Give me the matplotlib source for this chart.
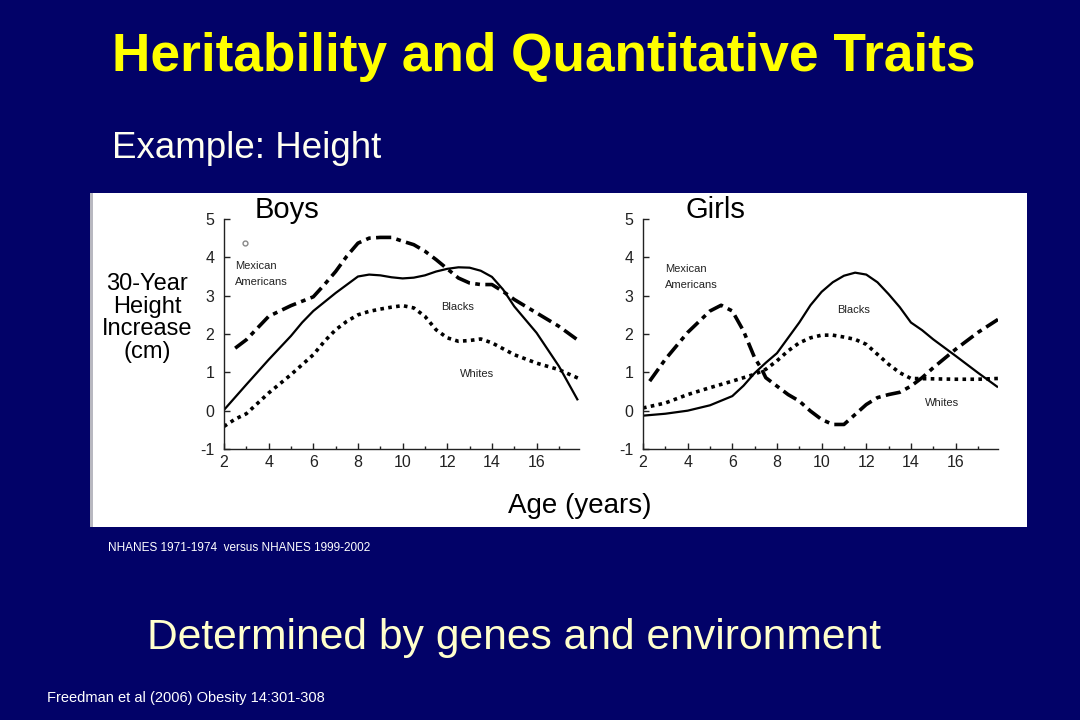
import matplotlib
matplotlib.use("Agg")
import matplotlib.pyplot as plt
from matplotlib.patches import Rectangle
from matplotlib.ticker import MultipleLocator

plt.rcParams['font.family'] = ['Liberation Sans', 'DejaVu Sans']
plt.rcParams['axes.unicode_minus'] = False

# ---------------- data ----------------
boys_black_x = [2, 3, 4, 5, 5.5, 6, 7, 8, 8.5, 9, 9.5, 10, 10.5, 11, 11.5, 12, 12.5, 13, 13.5, 14, 14.5, 15, 16, 17, 17.85]
boys_black_y = [0.02, 0.68, 1.33, 1.95, 2.3, 2.6, 3.07, 3.5, 3.55, 3.53, 3.48, 3.45, 3.47, 3.53, 3.63, 3.7, 3.74, 3.73, 3.65, 3.49, 3.16, 2.72, 2.03, 1.16, 0.27]

boys_mex_x = [2.5, 3, 4, 5, 6, 6.5, 7, 7.5, 8, 8.5, 9, 9.5, 10, 10.5, 11, 11.5, 12, 12.5, 13, 13.5, 14, 14.5, 15, 16, 17, 17.85]
boys_mex_y = [1.63, 1.85, 2.46, 2.74, 2.97, 3.29, 3.63, 4.03, 4.37, 4.5, 4.52, 4.52, 4.42, 4.33, 4.16, 3.94, 3.7, 3.46, 3.33, 3.29, 3.29, 3.11, 2.9, 2.55, 2.2, 1.84]

boys_white_x = [2, 2.5, 3, 4, 5, 6, 6.5, 7, 7.5, 8, 8.5, 9, 9.5, 10, 10.5, 11, 11.5, 12, 12.5, 13, 13.5, 14, 15, 16, 17, 17.85]
boys_white_y = [-0.41, -0.22, -0.08, 0.46, 0.94, 1.46, 1.81, 2.11, 2.33, 2.5, 2.59, 2.65, 2.7, 2.74, 2.68, 2.46, 2.11, 1.9, 1.81, 1.83, 1.87, 1.77, 1.46, 1.24, 1.07, 0.85]

girls_black_x = [2, 3, 4, 5, 6, 6.5, 7, 7.5, 8, 8.5, 9, 9.5, 10, 10.5, 11, 11.5, 12, 12.5, 13, 13.5, 14, 14.5, 15, 16, 17, 17.9]
girls_black_y = [-0.13, -0.08, 0.0, 0.14, 0.38, 0.65, 0.98, 1.25, 1.5, 1.9, 2.3, 2.75, 3.1, 3.35, 3.52, 3.6, 3.55, 3.35, 3.04, 2.7, 2.3, 2.1, 1.86, 1.43, 0.99, 0.61]

girls_mex_x = [2.3, 3, 4, 5, 5.5, 6, 6.5, 7, 7.3, 7.5, 8, 8.5, 9, 9.5, 10, 10.5, 11, 11.5, 12, 12.5, 13, 13.5, 14, 14.5, 15, 16, 17, 17.9]
girls_mex_y = [0.77, 1.34, 2.04, 2.6, 2.75, 2.6, 2.08, 1.38, 1.1, 0.86, 0.64, 0.42, 0.25, -0.01, -0.23, -0.36, -0.36, -0.1, 0.16, 0.34, 0.42, 0.48, 0.64, 0.86, 1.12, 1.6, 2.04, 2.38]

girls_white_x = [2, 3, 4, 5, 6, 7, 7.5, 8, 8.5, 9, 9.5, 10, 10.5, 11, 11.5, 12, 12.5, 13, 13.5, 14, 15, 16, 17, 17.9]
girls_white_y = [0.07, 0.2, 0.42, 0.6, 0.77, 0.95, 1.08, 1.3, 1.56, 1.77, 1.9, 1.97, 1.97, 1.92, 1.86, 1.73, 1.47, 1.21, 0.99, 0.84, 0.83, 0.82, 0.82, 0.84]

x_ticks = [2, 4, 6, 8, 10, 12, 14, 16]
y_ticks = [-1, 0, 1, 2, 3, 4, 5]

# ---------------- figure ----------------
W, H = 1080, 720
NAVY = '#020268'
fig = plt.figure(figsize=(W / 100, H / 100), dpi=100, facecolor=NAVY)

def fx(x):
    return x / W

def fy(y):
    return 1 - y / H

# white panel (drawn below the axes)
fig.patches.append(Rectangle((fx(90), fy(527)), (1027 - 90) / W, (527 - 193) / H,
                             transform=fig.transFigure, facecolor='white',
                             edgecolor='none', zorder=-2))
fig.patches.append(Rectangle((fx(90), fy(527)), 3 / W, (527 - 193) / H,
                             transform=fig.transFigure, facecolor='#b8b8c0',
                             edgecolor='none', zorder=-1))

def make_axes(left_px):
    ax = fig.add_axes([fx(left_px), fy(449), 355 / W, 230 / H])
    ax.set_facecolor('none')
    ax.set_zorder(1)
    ax.set_xlim(2, 17.9)
    ax.set_ylim(-1, 5)
    for s in ['top', 'right']:
        ax.spines[s].set_visible(False)
    for s in ['left', 'bottom']:
        ax.spines[s].set_color('#222222')
        ax.spines[s].set_linewidth(1.0)
    ax.set_xticks(x_ticks)
    ax.set_yticks(y_ticks)
    ax.xaxis.set_minor_locator(MultipleLocator(1))
    ax.tick_params(axis='both', which='major', direction='in', length=4,
                   width=1, labelsize=11.5, colors='#222222')
    ax.tick_params(axis='x', which='major', pad=4)
    ax.tick_params(axis='x', which='minor', direction='in', length=2.5, width=1,
                   colors='#222222')
    ax.tick_params(axis='y', which='major', pad=7)
    return ax

mex_style = (0, (4.2, 1.5, 1.3, 1.5))
dot_style = (0, (1, 1.2))

axb = make_axes(224)
axb.plot(boys_black_x, boys_black_y, color='black', lw=1.6, solid_capstyle='butt')
axb.plot(boys_mex_x, boys_mex_y, color='black', lw=2.6, linestyle=mex_style,
         dash_capstyle='butt')
axb.plot(boys_white_x, boys_white_y, color='black', lw=2.6, linestyle=dot_style,
         dash_capstyle='butt')
axb.plot([2.94], [4.37], marker='o', ms=3.5, mfc='none', mec='#888888', mew=1)

axg = make_axes(643)
axg.plot(girls_black_x, girls_black_y, color='black', lw=1.6, solid_capstyle='butt')
axg.plot(girls_mex_x, girls_mex_y, color='black', lw=2.6, linestyle=mex_style,
         dash_capstyle='butt')
axg.plot(girls_white_x, girls_white_y, color='black', lw=2.6, linestyle=dot_style,
         dash_capstyle='butt')

# texts in the panel
def t(x, y, s, **kw):
    fig.text(fx(x), fy(y), s, **kw)

t(287, 210, 'Boys', fontsize=21, color='black', ha='center', va='center')
t(715, 210, 'Girls', fontsize=21, color='black', ha='center', va='center')
t(147, 318, '30-Year\nHeight\nIncrease\n(cm)', fontsize=17, color='black',
  ha='center', va='center', linespacing=1.05)
t(580, 506, 'Age (years)', fontsize=20, color='black', ha='center', va='center')

small = dict(fontsize=8, color='#222222', va='center')
t(235, 266, 'Mexican', ha='left', **small)
t(235, 282, 'Americans', ha='left', **small)
t(458, 307, 'Blacks', ha='center', **small)
t(477, 374, 'Whites', ha='center', **small)
t(665, 269, 'Mexican', ha='left', **small)
t(665, 285, 'Americans', ha='left', **small)
t(854, 310, 'Blacks', ha='center', **small)
t(942, 403, 'Whites', ha='center', **small)

# slide texts
t(544, 57, 'Heritability and Quantitative Traits', fontsize=38.3, fontweight='bold',
  color='#ffff00', ha='center', va='center')
t(112, 148, 'Example: Height', fontsize=26.5, color='#fffff0', ha='left', va='center')
t(108, 548, 'NHANES 1971-1974  versus NHANES 1999-2002', fontsize=8.5,
  color='white', ha='left', va='center')
t(514, 638, 'Determined by genes and environment', fontsize=30.7, color='#ffffcc',
  ha='center', va='center')
t(47, 698, 'Freedman et al (2006) Obesity 14:301-308', fontsize=10.5,
  color='white', ha='left', va='center')

fig.savefig('out.png', dpi=100, facecolor=NAVY)
